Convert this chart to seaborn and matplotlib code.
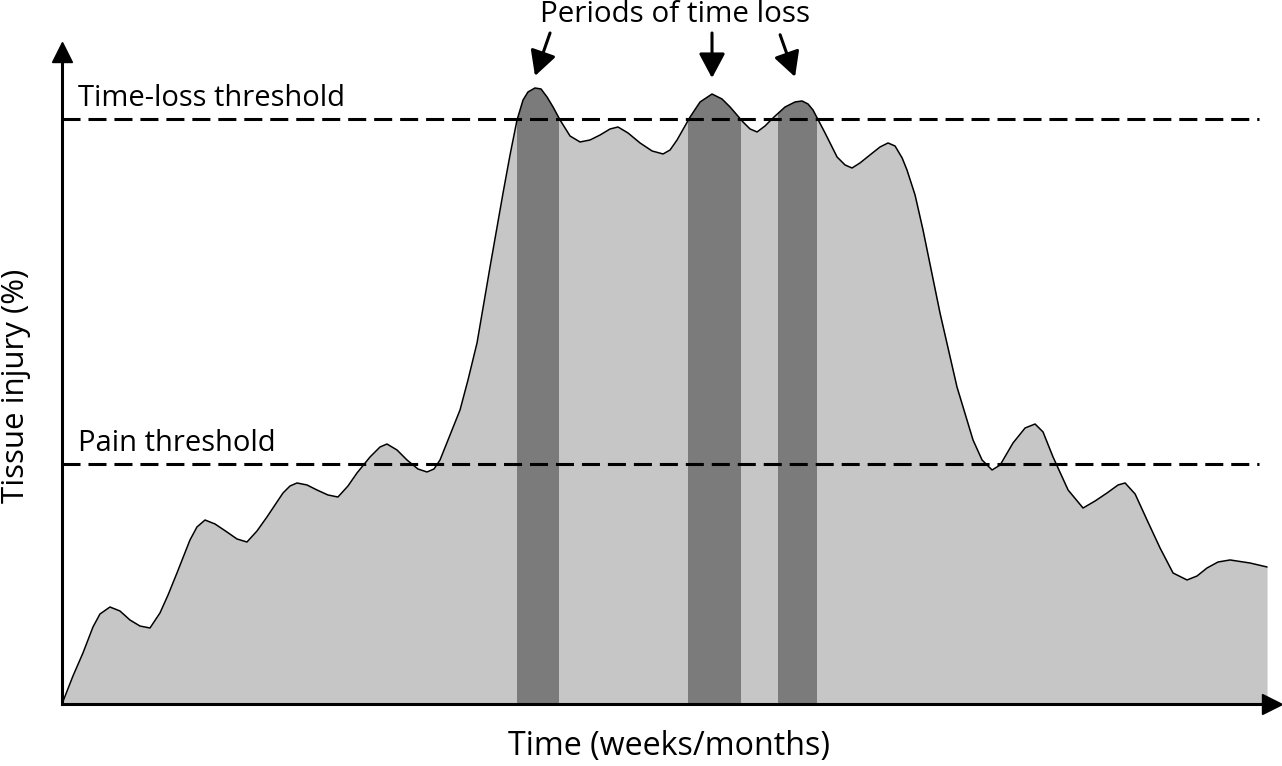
import numpy as np
import matplotlib
matplotlib.use("Agg")
import matplotlib.pyplot as plt
import seaborn as sns

# ---- data (time in arbitrary weeks/months units, tissue injury in %) ----
time = [0.0, 0.91, 1.74, 2.57, 3.15, 3.98, 4.81, 5.64, 6.47, 7.30,
        8.13, 8.80, 9.54, 10.62, 11.20, 11.87, 12.70, 13.69, 14.52, 15.35,
        16.18, 17.01, 18.34, 18.92, 19.50, 20.33, 21.16, 22.07, 22.90, 23.73,
        24.48, 25.56, 26.39, 26.97, 27.80, 28.63, 29.54, 30.29, 30.87, 31.37,
        32.20, 33.03, 33.69, 34.44, 35.52, 36.60, 37.18, 37.76, 38.26, 38.67,
        39.25, 39.75, 40.25, 40.75, 41.33, 42.16, 42.99, 43.82, 44.65, 45.48,
        46.14, 46.97, 47.97, 48.97, 49.88, 50.46, 51.04, 52.12, 52.95, 53.94,
        54.77, 55.44, 56.51, 57.10, 57.68, 58.34, 59.00, 60.00, 60.83, 61.41,
        61.91, 62.32, 63.32, 64.32, 64.98, 65.56, 66.22, 67.05, 67.88, 68.55,
        69.13, 69.72, 70.12, 70.79, 71.45, 72.86, 74.27, 75.60, 76.35, 77.18,
        77.85, 78.92, 79.92, 80.75, 81.41, 82.24, 83.49, 84.73, 85.73, 86.72,
        87.64, 88.22, 89.05, 90.04, 91.12, 92.20, 93.36, 94.19, 95.02, 95.93,
        96.93, 98.59, 100.0]
injury = [0.0, 4.79, 8.72, 13.16, 15.38, 16.58, 15.90, 14.36, 13.33, 12.99,
          15.56, 18.63, 22.39, 28.03, 30.26, 31.45, 30.77, 29.40, 28.21, 27.69,
          29.57, 31.97, 36.07, 37.26, 37.78, 37.44, 36.58, 35.73, 35.38, 37.26,
          39.49, 42.22, 43.93, 44.44, 43.42, 41.71, 40.17, 39.66, 40.17, 41.71,
          45.98, 50.26, 55.38, 61.71, 74.70, 87.35, 93.85, 99.83, 103.25, 104.62,
          105.30, 105.13, 103.76, 102.05, 99.83, 97.09, 96.07, 96.41, 97.26, 98.29,
          98.63, 97.61, 95.90, 94.53, 94.02, 94.70, 96.41, 100.34, 102.91, 104.27,
          103.42, 102.05, 99.49, 98.29, 97.78, 98.80, 100.17, 102.05, 102.91, 103.08,
          102.56, 101.54, 97.61, 93.50, 92.14, 91.62, 92.48, 93.85, 95.21, 95.90,
          95.38, 93.33, 91.28, 87.01, 81.03, 66.84, 54.19, 45.13, 41.71, 40.00,
          40.85, 44.62, 47.18, 47.86, 46.50, 42.22, 36.58, 33.50, 34.70, 36.07,
          37.44, 37.78, 35.90, 31.45, 26.67, 22.39, 21.20, 21.88, 23.25, 24.27,
          24.62, 24.10, 23.42]

threshold_values = [100.0, 41.0]
threshold_labels = ["Time-loss threshold", "Pain threshold"]
loss_start = [37.76, 51.95, 59.42]
loss_end = [41.25, 56.35, 62.66]

title_text = "Periods of time loss"
xlabel = "Time (weeks/months)"
ylabel = "Tissue injury (%)"

# ---- style ----
sns.set_theme(style="white")
plt.rcParams["font.family"] = ["Open Sans", "DejaVu Sans"]
plt.rcParams["text.color"] = "black"

W, H = 1282, 766
fig = plt.figure(figsize=(W / 100, H / 100), dpi=100)
ax = fig.add_axes([62 / W, 62 / H, (1272 - 62) / W, (704 - 52) / H])
ax.set_xlim(0, 100.41)
ax.set_ylim(0, 111.45)

light = "#c6c6c6"
dark = "#7b7b7b"

fill = ax.fill_between(time, injury, 0, color=light, lw=0, zorder=1)
clip = fill.get_paths()[0]
for s, e in zip(loss_start, loss_end):
    span = ax.axvspan(s, e, color=dark, lw=0, zorder=2)
    span.set_clip_path(clip, ax.transData)

sns.lineplot(x=time, y=injury, color="black", lw=1.1, ax=ax, zorder=3, sort=False,
             solid_joinstyle="round", solid_capstyle="round")

for val, lab in zip(threshold_values, threshold_labels):
    ax.hlines(val, 0, 99.3, colors="black", lw=2.2, linestyles=(0, (5.9, 2.6)), zorder=4)
    ax.text(1.33, val + 2.2, lab, fontsize=21, ha="left", va="baseline", zorder=5,
            color="black")

# axes with arrowheads
for side in ["top", "right"]:
    ax.spines[side].set_visible(False)
for side in ["left", "bottom"]:
    ax.spines[side].set_linewidth(2.2)
    ax.spines[side].set_color("black")
ax.set_xticks([])
ax.set_yticks([])
ax.plot(1, 0, ">", color="black", ms=14, transform=ax.transAxes, clip_on=False, zorder=6)
ax.plot(0, 1, "^", color="black", ms=14, transform=ax.transAxes, clip_on=False, zorder=6)

# annotation for periods of time loss
ax.text(50.84, 116.6, title_text, fontsize=21.3, ha="center", va="baseline",
        clip_on=False, color="black")
arrow_tails = [(40.50, 114.7), (53.94, 114.7), (59.59, 114.4)]
arrow_heads = [(39.25, 107.35), (53.94, 107.0), (60.83, 107.2)]
for (tx, ty), (hx, hy) in zip(arrow_tails, arrow_heads):
    ax.annotate("", xy=(hx, hy), xytext=(tx, ty), annotation_clip=False,
                arrowprops=dict(arrowstyle="-|>,head_length=0.75,head_width=0.4",
                                color="black", lw=2.2, mutation_scale=20,
                                shrinkA=0, shrinkB=0))

fig.text(669 / W, 1 - 755 / H, xlabel, fontsize=23.2, ha="center", va="baseline",
         color="black")
fig.text(16 / W, 1 - 386 / H, ylabel, fontsize=22.5, ha="center", va="center",
         rotation=90, color="black")

fig.savefig("out.png", dpi=100)
